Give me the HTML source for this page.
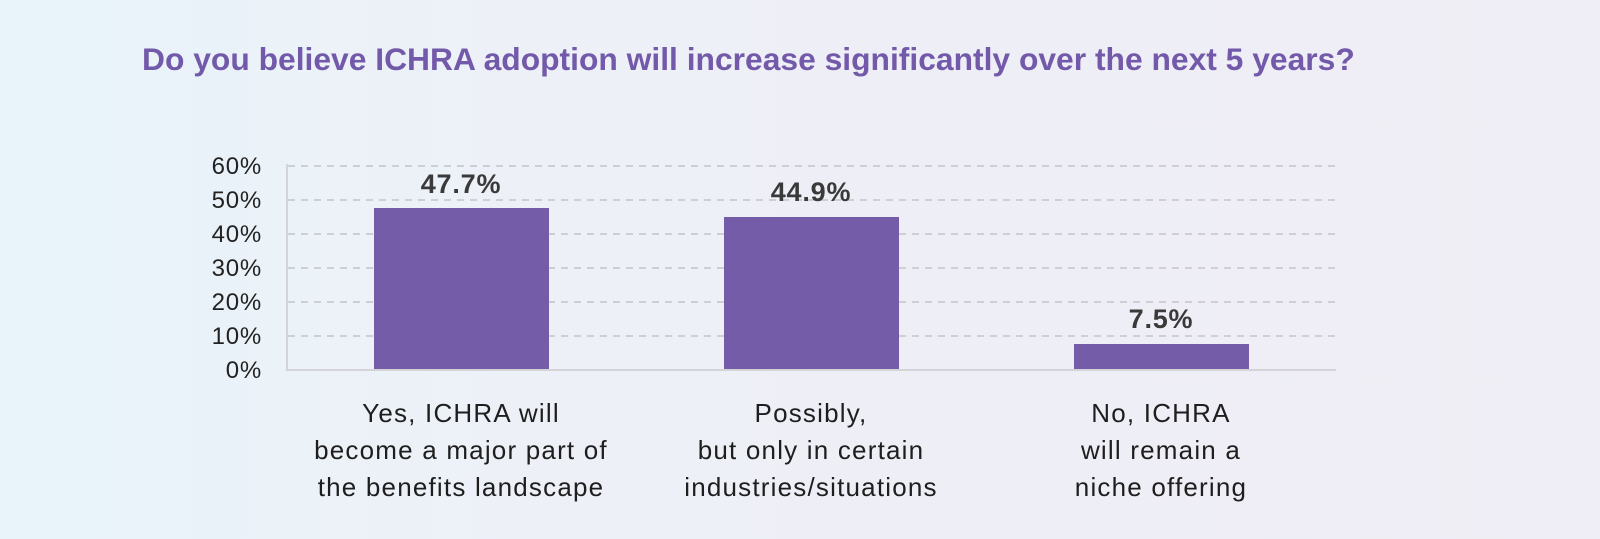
<!DOCTYPE html>
<html><head><meta charset="utf-8"><style>
html,body{margin:0;padding:0}
body{width:1600px;height:539px;overflow:hidden;background:linear-gradient(90deg,#e8f4fa 0%,#eef0f7 35%,#efedf5 100%);font-family:"Liberation Sans",sans-serif}
</style></head><body>
<svg width="1600" height="539" xmlns="http://www.w3.org/2000/svg" style="position:absolute;left:0;top:0">
<text x="142" y="70" font-family="Liberation Sans" font-weight="bold" font-size="31.8" fill="#7359aa">Do you believe ICHRA adoption will increase significantly over the next 5 years?</text>
<g stroke="#c4c4c8" stroke-width="1.5" stroke-dasharray="7,6">
<line x1="288" x2="1335" y1="166" y2="166"/>
<line x1="288" x2="1335" y1="200" y2="200"/>
<line x1="288" x2="1335" y1="234" y2="234"/>
<line x1="288" x2="1335" y1="268" y2="268"/>
<line x1="288" x2="1335" y1="302" y2="302"/>
<line x1="288" x2="1335" y1="336" y2="336"/>
</g>
<line x1="287" x2="287" y1="164" y2="371" stroke="#d4d4d8" stroke-width="2"/>
<line x1="286" x2="1336" y1="370" y2="370" stroke="#d4d4d8" stroke-width="2"/>
<g font-family="Liberation Sans" font-size="24" letter-spacing="0.8" fill="#222" text-anchor="end">
<text x="262" y="174">60%</text><text x="262" y="208">50%</text><text x="262" y="242">40%</text>
<text x="262" y="276">30%</text><text x="262" y="310">20%</text><text x="262" y="344">10%</text>
<text x="262" y="378">0%</text>
</g>
<g fill="#755ca8">
<rect x="374" y="208" width="175" height="161"/>
<rect x="724" y="217" width="175" height="152"/>
<rect x="1074" y="344" width="175" height="25"/>
</g>
<g font-family="Liberation Sans" font-weight="bold" font-size="27" letter-spacing="0.8" fill="#3a3a3a" text-anchor="middle">
<text x="461" y="193">47.7%</text><text x="811" y="201">44.9%</text><text x="1161" y="328">7.5%</text>
</g>
<g font-family="Liberation Sans" font-size="26" letter-spacing="1.2" fill="#1e1e1e" text-anchor="middle">
<text x="461" y="422">Yes, ICHRA will</text><text x="461" y="459">become a major part of</text><text x="461" y="496">the benefits landscape</text>
<text x="811" y="422">Possibly,</text><text x="811" y="459">but only in certain</text><text x="811" y="496">industries/situations</text>
<text x="1161" y="422">No, ICHRA</text><text x="1161" y="459">will remain a</text><text x="1161" y="496">niche offering</text>
</g>
</svg>
</body></html>
